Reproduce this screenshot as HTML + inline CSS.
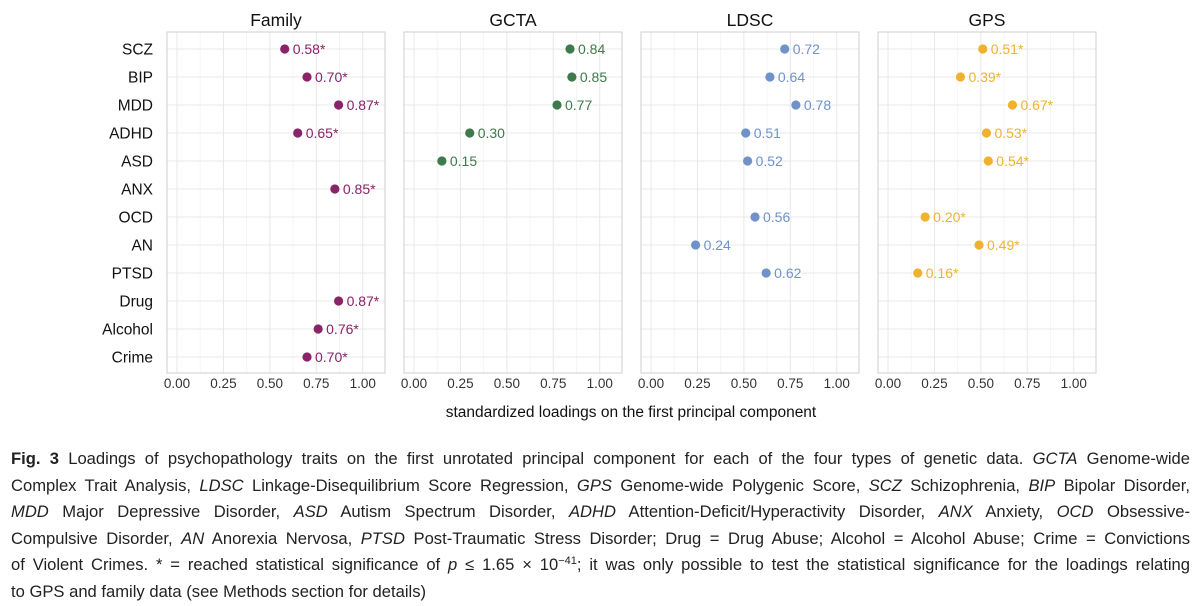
<!DOCTYPE html>
<html><head><meta charset="utf-8"><style>
body{margin:0;width:1200px;height:600px;background:#fff;overflow:hidden;font-family:"Liberation Sans",sans-serif}
#cap{position:absolute;left:11px;top:446px;width:1179px;font-size:16.6px;color:#222;line-height:26.6px}
#cap div{text-align:justify;text-align-last:justify;white-space:nowrap;height:26.6px}
#cap div.last{text-align-last:left}
#cap sup{font-size:11px;line-height:0;vertical-align:6px}
</style></head><body>
<svg id="chart" width="1200" height="440" style="position:absolute;left:0;top:0" font-family="Liberation Sans, sans-serif"></svg>
<div id="cap">
<div><b>Fig. 3</b> Loadings of psychopathology traits on the first unrotated principal component for each of the four types of genetic data. <i>GCTA</i> Genome-wide</div>
<div>Complex Trait Analysis, <i>LDSC</i> Linkage-Disequilibrium Score Regression, <i>GPS</i> Genome-wide Polygenic Score, <i>SCZ</i> Schizophrenia, <i>BIP</i> Bipolar Disorder,</div>
<div><i>MDD</i> Major Depressive Disorder, <i>ASD</i> Autism Spectrum Disorder, <i>ADHD</i> Attention-Deficit/Hyperactivity Disorder, <i>ANX</i> Anxiety, <i>OCD</i> Obsessive-</div>
<div>Compulsive Disorder, <i>AN</i> Anorexia Nervosa, <i>PTSD</i> Post-Traumatic Stress Disorder; Drug = Drug Abuse; Alcohol = Alcohol Abuse; Crime = Convictions</div>
<div>of Violent Crimes. * = reached statistical significance of <i>p</i> ≤ 1.65 × 10<sup>−41</sup>; it was only possible to test the statistical significance for the loadings relating</div>
<div class="last">to GPS and family data (see Methods section for details)</div>
</div>
<script>
const traits=["SCZ","BIP","MDD","ADHD","ASD","ANX","OCD","AN","PTSD","Drug","Alcohol","Crime"];
const panels=["Family","GCTA","LDSC","GPS"];
const familyVals=[0.58,0.70,0.87,0.65,null,0.85,null,null,null,0.87,0.76,0.70];
const gctaVals=[0.84,0.85,0.77,0.30,0.15,null,null,null,null,null,null,null];
const ldscVals=[0.72,0.64,0.78,0.51,0.52,null,0.56,0.24,0.62,null,null,null];
const gpsVals=[0.51,0.39,0.67,0.53,0.54,null,0.20,0.49,0.16,null,null,null];
const significant=[true,false,false,true];
const xTicks=[0,0.25,0.5,0.75,1];
const xTickLabels=["0.00","0.25","0.50","0.75","1.00"];
const series=[familyVals,gctaVals,ldscVals,gpsVals];
const colors=["#8a2468","#3e7a4c","#6f93c9","#f0b22e"];
const NS="http://www.w3.org/2000/svg";
const svg=document.getElementById("chart");
function mk(t,a,p){const e=document.createElementNS(NS,t);for(const k in a)e.setAttribute(k,a[k]);(p||svg).appendChild(e);return e;}
const pLeft=[167,404,641,878],pW=218,pTop=32,pBot=373;
const dMin=-0.054,dMax=1.12;
function xs(i,v){return pLeft[i]+(v-dMin)/(dMax-dMin)*pW;}
function ys(j){return 49+j*(357-49)/(traits.length-1);}
traits.forEach((t,j)=>{
  const e=mk("text",{x:153,y:ys(j)+5.5,"text-anchor":"end","font-size":15.5,fill:"#111"});
  
  
  e.textContent=t;
});
panels.forEach((p,i)=>{
  const g=mk("g",{});
  
  
  mk("rect",{x:pLeft[i],y:pTop,width:pW,height:pBot-pTop,fill:"#fff"},g);
  for(let k=0;k<4;k++){const v=0.125+k*0.25;const x=xs(i,v);mk("line",{x1:x,x2:x,y1:pTop,y2:pBot,stroke:"#f3f3f3","stroke-width":0.8},g);}
  xTicks.forEach(v=>{const x=xs(i,v);mk("line",{x1:x,x2:x,y1:pTop,y2:pBot,stroke:"#e8e8e8","stroke-width":1},g);});
  traits.forEach((t,j)=>{mk("line",{x1:pLeft[i],x2:pLeft[i]+pW,y1:ys(j),y2:ys(j),stroke:"#e8e8e8","stroke-width":1},g);});
  mk("rect",{x:pLeft[i],y:pTop,width:pW,height:pBot-pTop,fill:"none",stroke:"#cfcfcf","stroke-width":1},g);
  const tt=mk("text",{x:pLeft[i]+pW/2,y:26,"text-anchor":"middle","font-size":17.5,fill:"#111"});
  
  
  tt.textContent=p;
  xTicks.forEach((v,k)=>{
    const tl=mk("text",{x:xs(i,v),y:388,"text-anchor":"middle","font-size":13.5,fill:"#333"});
    
    
    tl.textContent=xTickLabels[k];
  });
  series[i].forEach((v,j)=>{
    if(v===null)return;
    const c=mk("circle",{cx:xs(i,v),cy:ys(j),r:4.6,fill:colors[i]});
    
    
    const l=mk("text",{x:xs(i,v)+8,y:ys(j)+5,"font-size":14,fill:colors[i]});
    
    
    l.textContent=v.toFixed(2)+(significant[i]?"*":"");
  });
});
const xt=mk("text",{x:631,y:417,"text-anchor":"middle","font-size":15.5,fill:"#111"});


xt.textContent="standardized loadings on the first principal component";
</script>
</body></html>
